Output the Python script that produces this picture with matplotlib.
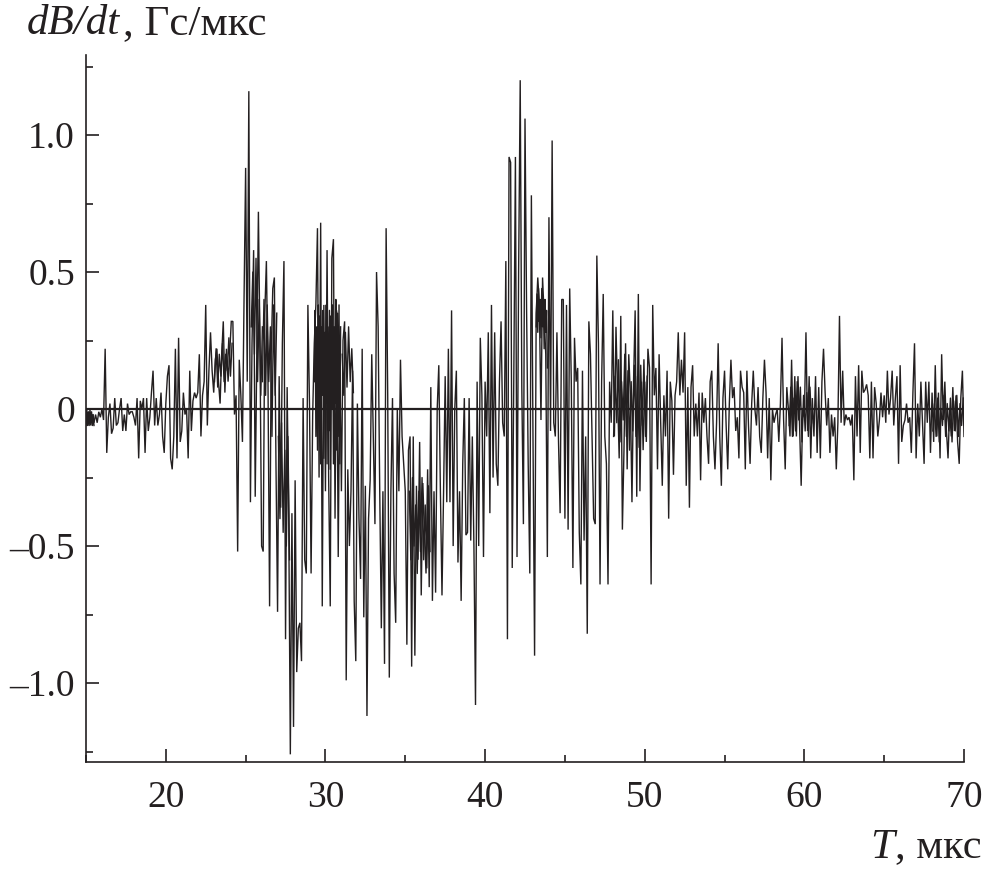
import numpy as np
import matplotlib
matplotlib.use('Agg')
import matplotlib.pyplot as plt
from matplotlib.ticker import MultipleLocator

# dB/dt readings, one row per microsecond, sampled every 0.1 us
dbdt_15_20 = [
    -.02, -.06, -.01, -.06, -.02, -.05, -.02, -.05, -.01, -.03,
    .0, -.04, .22, -.16, -.03, .02, -.09, -.07, .04, -.06,
    -.05, .0, .04, -.08, -.02, -.08, .02, -.02, -.01, -.01,
    -.03, -.06, .04, -.18, .03, .0, .04, -.16, .04, -.08,
    -.03, .06, .14, -.06, .04, -.06, -.02, .06, -.1, -.16,
]
dbdt_20_25 = [
    .02, .12, .16, -.18, -.22, -.1, .22, -.18, .26, -.12,
    -.08, .06, -.02, .0, -.18, .14, -.08, .03, .06, .04,
    .06, .2, -.1, .05, .1, .38, -.06, .14, .28, .14,
    .06, .18, .22, .1, .02, .2, .32, .06, .22, .1,
    .2, .32, .32, -.02, .05, -.52, .18, .05, -.12, .4,
]
dbdt_25_30 = [
    .88, .1, 1.16, -.34, .24, .58, -.32, .2, .72, .22,
    -.5, -.52, .35, .54, .1, -.72, .2, .44, .48, -.2,
    -.74, .12, -.36, .24, .54, -.84, .08, -.4, -1.26, -.38,
    -1.16, -.26, -.96, -.8, -.78, -.92, .04, -.55, -.6, .38,
    .02, -.6, -.02, .24, .38, .66, -.25, .68, -.72, .38,
]
dbdt_30_35 = [
    -.3, .58, -.25, -.72, .55, .62, -.4, .36, -.54, .2,
    -.3, .25, .32, -.99, -.22, -.5, -.3, .14, -.7, -.92,
    .02, -.4, -.62, .22, -.76, -.28, -1.12, -.4, -.26, .2,
    -.1, -.42, .5, .3, -.3, -.8, -.3, -.93, .66, .05,
    -.98, -.3, .04, -.6, -.78, .0, -.3, .18, -.1, -.2,
]
dbdt_35_40 = [
    -.3, -.86, -.15, -.1, -.94, -.1, -.9, -.28, -.55, -.12,
    -.68, -.27, -.45, -.6, -.22, -.65, .08, -.7, -.3, -.67,
    .0, .16, -.3, -.68, -.3, .12, -.34, .22, -.34, .36,
    -.5, .0, .14, -.56, -.3, -.7, -.2, .04, -.46, -.45,
    .04, -.48, -.1, -.5, -1.08, .1, -.5, .26, .05, -.54,
]
dbdt_40_45 = [
    .1, -.1, .28, -.38, .38, -.25, .28, -.2, -.28, .1,
    .32, -.05, -.1, .54, -.84, .92, .9, -.58, .13, .92,
    -.54, .5, 1.2, .08, -.42, 1.06, .36, -.2, -.6, .78,
    -.1, -.9, .35, .48, .38, -.04, .48, .34, .2, -.54,
    .7, -.08, .98, -.05, -.1, .28, -.12, -.38, .4, .4,
]
dbdt_45_50 = [
    -.4, .38, -.44, .44, .1, -.58, .26, .1, .15, -.45,
    -.64, .14, -.48, -.1, -.82, .32, .2, -.1, -.4, -.42,
    .56, .24, -.64, .1, .42, -.1, -.2, -.64, .1, -.05,
    .36, -.1, .3, .05, -.18, .34, -.44, -.15, .24, -.22,
    .2, .05, -.34, .1, .36, -.32, .42, -.3, .1, -.15,
]
dbdt_50_55 = [
    .1, -.12, .22, .15, -.64, .38, .05, .15, -.22, .2,
    -.05, -.28, .05, -.1, .14, -.4, .1, .03, -.24, .05,
    .1, .28, .05, .18, .06, .28, -.28, .08, -.36, .08,
    .16, -.1, .02, -.1, .06, -.26, .06, -.05, .04, -.1,
    -.2, .1, .14, -.1, -.22, -.05, .24, -.1, -.28, .04,
]
dbdt_55_60 = [
    .14, -.06, -.22, .02, .18, .04, .08, -.08, -.03, -.18,
    .14, .08, .06, -.22, .14, -.06, -.2, .02, .14, .0,
    -.06, .08, -.1, -.16, .04, .18, .06, -.18, .04, -.26,
    .0, -.05, -.02, .0, -.12, .02, .26, -.04, -.22, .08,
    .0, -.1, .18, -.1, .12, -.1, .12, -.06, -.28, .0,
]
dbdt_60_65 = [
    -.03, .28, -.08, .12, -.18, .04, -.1, .12, -.16, .08,
    -.18, .1, .22, .06, -.06, .04, -.16, -.02, -.1, -.03,
    -.22, -.05, .34, -.05, .14, -.06, -.02, -.04, -.03, -.06,
    -.02, -.26, .12, -.1, .16, -.16, .14, .06, .07, .09,
    .05, -.18, .1, -.18, .08, .02, -.1, -.04, .06, -.03,
]
dbdt_65_70 = [
    .05, -.05, .14, -.02, .04, .14, -.06, .04, .12, -.2,
    .16, -.12, -.06, -.04, .02, -.05, -.03, -.16, .06, .24,
    -.18, .02, -.1, .1, -.05, -.2, .1, -.05, .1, -.16,
    .06, -.12, .16, -.1, .06, -.18, .2, -.04, .1, -.08,
    -.18, .0, -.1, .08, -.08, .05, -.12, -.2, .04, .14,
    -.1,
]

# stretches where the trace prints nearly solid, extra readings between the 0.1 us ones
fine_15 = [-.06, 0, -.06, -.01, -.06, 0, -.05, -.01, -.06, -.02, -.06]
fine_23 = [.1, .22, .08, .2, .12, .24, .1, .2, .14, .26, .12, .24]
fine_25 = [.3, .5, .2, .55, .1, .4, .05, .3]
fine_26 = [.1, .4, .05, .38, .1, .3, -.1, .38, .05, .35]
fine_27 = [-.1, -.4, -.05, -.45, -.15, -.5, -.1, -.55]
fine_29 = [.1, .36, -.1, .3, -.15, .38, .0, .34, -.2, .3, .05, .36, -.18, .28, .02, .38, -.2, .3, -.08, .36,
           -.22, .34, .0, .38, -.2, .3, .02, .4, -.15, .35, -.1, .38, -.2, .3]
fine_31 = [.2, .05, .28, .08, .3, .1, .22, .06]
fine_35 = [-.3, -.55, -.25, -.5, -.35, -.6, -.3, -.52, -.25, -.55, -.35, -.58, -.28, -.52]
fine_43 = [.3, .42, .28, .44, .32, .4, .26, .44, .3, .38, .22, .4, .28, .36, .15]
fine_48 = [-.1, .12, -.05, .18, -.12, .1, -.04, .2, -.1, .14, -.15, .1, -.08, .16, -.1, .12, -.14, .16, -.06, .18, -.1, .12]
fine_59 = [-.06, .08, -.1, .04, -.08, .1, -.04, .08, -.12, .05, -.08, .06, -.1, .08, -.05]
fine_68 = [-.08, .02, -.1, .04, -.12, .0, -.06, .05, -.1, .02, -.08, .04, -.12, .03, -.08, .05, -.1, .02, -.06, .04]
fine_starts = [15.0, 23.05, 25.35, 26.05, 27.05, 29.3, 31.05, 35.25, 43.2, 48.05, 59.05, 68.05]
fine_steps = [.05, .1, .1, .1, .1, .05, .1, .1, .05, .1, .1, .1]
fine_traces = [fine_15, fine_23, fine_25, fine_26, fine_27, fine_29, fine_31, fine_35, fine_43, fine_48, fine_59, fine_68]

x_ticks = [20, 30, 40, 50, 60, 70]
y_ticks = [-1.0, -0.5, 0, 0.5, 1.0]
y_tick_labels = ['\u20131.0', '\u20130.5', '0', '0.5', '1.0']

dbdt = np.concatenate([dbdt_15_20, dbdt_20_25, dbdt_25_30, dbdt_30_35, dbdt_35_40,
                       dbdt_40_45, dbdt_45_50, dbdt_50_55, dbdt_55_60, dbdt_60_65, dbdt_65_70])
t = 15 + np.arange(len(dbdt)) * 0.1

W, H = 983, 871
INK = '#231f20'
plt.rcParams['font.family'] = ['Liberation Serif', 'DejaVu Serif']
fig = plt.figure(figsize=(W / 100, H / 100), dpi=100)
ax = fig.add_axes([86 / W, 1 - 762 / H, (964 - 86) / W, (762 - 55) / H])

ax.plot(t, dbdt, color=INK, lw=1.0, solid_joinstyle='miter')
for start, step, values in zip(fine_starts, fine_steps, fine_traces):
    ax.plot(start + np.arange(len(values)) * step, values, color=INK, lw=1.0)
ax.axhline(0, color=INK, lw=1.6)

ax.set_xlim(15, 70)
ax.set_ylim(-1.288, 1.292)
ax.spines['top'].set_visible(False)
ax.spines['right'].set_visible(False)
ax.spines['left'].set_linewidth(1.2)
ax.spines['bottom'].set_linewidth(1.2)
ax.spines['left'].set_color(INK)
ax.spines['bottom'].set_color(INK)

ax.set_xticks(x_ticks)
ax.set_yticks(y_ticks)
ax.set_yticklabels(y_tick_labels)
ax.xaxis.set_minor_locator(MultipleLocator(5))
ax.yaxis.set_minor_locator(MultipleLocator(0.25))
ax.tick_params(which='major', direction='in', length=9.5, width=1.2, color=INK,
               labelsize=27, labelcolor=INK)
ax.tick_params(which='minor', direction='in', length=5, width=1.2, color=INK)
ax.tick_params(axis='x', which='major', pad=13)
ax.tick_params(axis='y', which='major', pad=8)

# axis captions sit in pixel positions, italic and upright parts are separate
fig.text(27 / W, 1 - 34 / H, 'dB/dt', fontsize=31, style='italic', color=INK, va='baseline')
fig.text(123 / W, 1 - 34 / H, ', \u0413\u0441/\u043c\u043a\u0441', fontsize=31, color=INK, va='baseline')
fig.text(870 / W, 1 - 858 / H, 'T', fontsize=31, style='italic', color=INK, va='baseline')
fig.text(895 / W, 1 - 858 / H, ', \u043c\u043a\u0441', fontsize=30.5, color=INK, va='baseline')

fig.savefig('out.png', dpi=100)
